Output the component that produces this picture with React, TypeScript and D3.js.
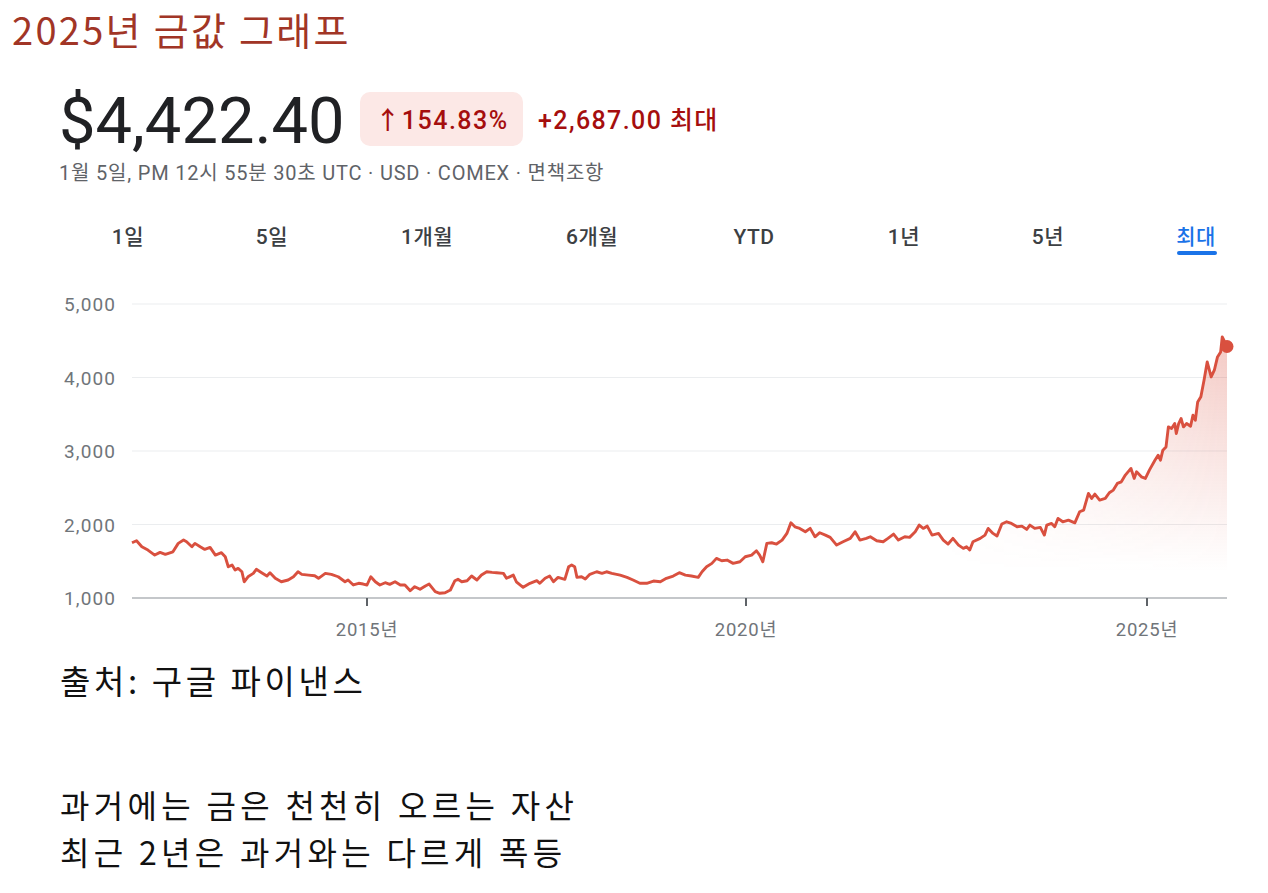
import React from "react";
import * as d3 from "d3";

// ---- data (decimal year, price in USD) ----
const years: number[] = [
  2011.90, 2011.96, 2012.03, 2012.11, 2012.20, 2012.27, 2012.34, 2012.44, 2012.51, 2012.58,
  2012.62, 2012.69, 2012.73, 2012.80, 2012.86, 2012.93, 2013.00, 2013.08, 2013.13, 2013.17,
  2013.22, 2013.26, 2013.30, 2013.35, 2013.38, 2013.43, 2013.50, 2013.54, 2013.61, 2013.68,
  2013.72, 2013.79, 2013.87, 2013.96, 2014.03, 2014.09, 2014.14, 2014.23, 2014.31, 2014.36,
  2014.45, 2014.53, 2014.62, 2014.71, 2014.75, 2014.82, 2014.89, 2014.95, 2015.00, 2015.05,
  2015.11, 2015.17, 2015.24, 2015.30, 2015.37, 2015.44, 2015.50, 2015.57, 2015.63, 2015.70,
  2015.77, 2015.82, 2015.90, 2015.96, 2016.03, 2016.10, 2016.16, 2016.20, 2016.25, 2016.32,
  2016.38, 2016.45, 2016.51, 2016.58, 2016.65, 2016.71, 2016.80, 2016.84, 2016.93, 2016.97,
  2017.06, 2017.15, 2017.24, 2017.28, 2017.35, 2017.41, 2017.46, 2017.52, 2017.61, 2017.66,
  2017.70, 2017.74, 2017.77, 2017.83, 2017.88, 2017.94, 2018.03, 2018.10, 2018.16, 2018.23,
  2018.34, 2018.43, 2018.51, 2018.60, 2018.69, 2018.78, 2018.87, 2018.95, 2019.04, 2019.12,
  2019.20, 2019.28, 2019.37, 2019.42, 2019.48, 2019.55, 2019.61, 2019.68, 2019.75, 2019.83,
  2019.92, 2019.99, 2020.07, 2020.13, 2020.17, 2020.21, 2020.26, 2020.32, 2020.38, 2020.45,
  2020.51, 2020.56, 2020.61, 2020.67, 2020.74, 2020.80, 2020.86, 2020.92, 2020.99, 2021.05,
  2021.13, 2021.21, 2021.30, 2021.36, 2021.42, 2021.50, 2021.55, 2021.63, 2021.71, 2021.77,
  2021.84, 2021.90, 2021.98, 2022.04, 2022.11, 2022.16, 2022.21, 2022.26, 2022.32, 2022.40,
  2022.46, 2022.52, 2022.58, 2022.65, 2022.71, 2022.75, 2022.79, 2022.83, 2022.92, 2022.98,
  2023.02, 2023.08, 2023.13, 2023.19, 2023.25, 2023.31, 2023.38, 2023.44, 2023.50, 2023.54,
  2023.60, 2023.67, 2023.72, 2023.75, 2023.81, 2023.85, 2023.89, 2023.95, 2024.02, 2024.10,
  2024.16, 2024.21, 2024.27, 2024.31, 2024.35, 2024.41, 2024.48, 2024.53, 2024.58, 2024.63,
  2024.68, 2024.73, 2024.80, 2024.84, 2024.87, 2024.93, 2024.98, 2025.03, 2025.10, 2025.14,
  2025.17, 2025.20, 2025.24, 2025.27, 2025.31, 2025.35, 2025.37, 2025.40, 2025.43, 2025.46,
  2025.50, 2025.55, 2025.58, 2025.61, 2025.64, 2025.68, 2025.72, 2025.76, 2025.81, 2025.85,
  2025.89, 2025.93, 2025.95, 2026.01,
];

const prices: number[] = [
  1751, 1779, 1697, 1652, 1584, 1621, 1594, 1629, 1743, 1788,
  1765, 1697, 1743, 1697, 1661, 1688, 1584, 1616, 1561, 1425,
  1448, 1380, 1403, 1357, 1221, 1289, 1335, 1390, 1344, 1299,
  1344, 1268, 1221, 1245, 1289, 1357, 1322, 1312, 1303, 1268,
  1335, 1322, 1289, 1221, 1245, 1177, 1200, 1190, 1177, 1289,
  1221, 1177, 1208, 1186, 1221, 1177, 1177, 1099, 1154, 1118,
  1163, 1190, 1086, 1064, 1072, 1109, 1235, 1254, 1221, 1235,
  1299, 1245, 1312, 1357, 1349, 1344, 1335, 1268, 1312, 1221,
  1145, 1200, 1235, 1200, 1268, 1299, 1221, 1281, 1254, 1425,
  1448, 1425, 1281, 1289, 1258, 1322, 1357, 1335, 1357, 1335,
  1312, 1281, 1245, 1200, 1200, 1231, 1221, 1268, 1299, 1344,
  1312, 1299, 1281, 1357, 1425, 1471, 1539, 1507, 1516, 1471,
  1493, 1561, 1584, 1643, 1584, 1493, 1743, 1752, 1734, 1788,
  1879, 2023, 1969, 1947, 1901, 1947, 1833, 1888, 1856, 1825,
  1720, 1765, 1811, 1901, 1788, 1811, 1833, 1779, 1765, 1811,
  1870, 1788, 1833, 1825, 1901, 1992, 1947, 1978, 1856, 1879,
  1788, 1734, 1811, 1720, 1675, 1697, 1652, 1765, 1811, 1856,
  1947, 1879, 1843, 2006, 2037, 2015, 1969, 1978, 1933, 1992,
  1947, 1961, 1856, 1992, 2015, 1969, 2083, 2037, 2060, 2023,
  2173, 2196, 2423, 2355, 2413, 2332, 2355, 2432, 2468, 2559,
  2581, 2672, 2763, 2627, 2717, 2649, 2627, 2740, 2875, 2943,
  2875, 3011, 3056, 3328, 3306, 3374, 3238, 3374, 3442, 3328,
  3374, 3337, 3487, 3419, 3668, 3737, 3963, 4212, 4008, 4099,
  4280, 4348, 4552, 4422,
];

const yTicks: number[] = [1000, 2000, 3000, 4000, 5000];
const xTicks: number[] = [2015, 2020, 2025];
const tabs: string[] = ["1일", "5일", "1개월", "6개월", "YTD", "1년", "5년", "최대"];
const noteLines: string[] = ["과거에는 금은 천천히 오르는 자산", "최근 2년은 과거와는 다르게 폭등"];

const KR = "'Noto Sans CJK KR', 'Noto Sans', sans-serif";
const RB = "Roboto, 'Noto Sans CJK KR', sans-serif";
const LINE = "#d9503f";

export default function App() {
  const x = d3
    .scaleLinear()
    .domain([2011.9, 2015, 2020, 2025, 2026.01])
    .range([132, 367, 746, 1147, 1227]);
  const y = d3.scaleLinear().domain([1000, 5000]).range([598, 304]);

  const pts = years.map((yr, i) => ({ t: yr, v: prices[i] }));
  const line = d3
    .line<{ t: number; v: number }>()
    .x((d) => x(d.t))
    .y((d) => y(d.v));
  const area = d3
    .area<{ t: number; v: number }>()
    .x((d) => x(d.t))
    .y0(y(1000))
    .y1((d) => y(d.v));

  const last = pts[pts.length - 1];
  const tabX = [128, 272, 427, 592, 754, 904, 1048, 1196];

  return (
    <svg
      width={1268}
      height={893}
      style={{ position: "absolute", left: 0, top: 0, background: "#fff" }}
    >
      <defs>
        <linearGradient id="hfade" gradientUnits="userSpaceOnUse" x1={930} y1={0} x2={1227} y2={0}>
          <stop offset="0%" stopColor="#fff" stopOpacity={0} />
          <stop offset="100%" stopColor="#fff" stopOpacity={1} />
        </linearGradient>
        <mask id="amask">
          <rect x={0} y={0} width={1268} height={893} fill="url(#hfade)" />
        </mask>
        <linearGradient id="vfade2" gradientUnits="userSpaceOnUse" x1={0} y1={330} x2={0} y2={598}>
          <stop offset="0%" stopColor={LINE} stopOpacity={0.32} />
          <stop offset="90%" stopColor={LINE} stopOpacity={0} />
        </linearGradient>
      </defs>

      {/* title */}
      <text x={12} y={45} fontFamily={KR} fontSize={38} letterSpacing={2.3} fill="#a13526">
        2025년 금값 그래프
      </text>

      {/* price header */}
      <text x={59} y={143} fontFamily={RB} fontSize={65} fill="#202124">
        $4,422.40
      </text>
      <rect x={360} y={92} width={163} height={54} rx={10} fill="#fce8e6" />
      <text x={442} y={129} textAnchor="middle" fontFamily={RB} fontSize={25} letterSpacing={1.5} fontWeight={500} fill="#a50e0e">
        ↑154.83%
      </text>
      <text x={538} y={129} fontFamily={RB} fontSize={25} letterSpacing={1.4} fontWeight={500} fill="#a50e0e">
        +2,687.00 최대
      </text>
      <text x={59} y={180} fontFamily={RB} fontSize={20} letterSpacing={0.8} fill="#5f6368">
        1월 5일, PM 12시 55분 30초 UTC · USD · COMEX · 면책조항
      </text>

      {/* tabs */}
      {tabs.map((t, i) => (
        <text
          key={t}
          x={tabX[i]}
          y={244}
          textAnchor="middle"
          fontFamily={RB}
          fontSize={21}
          fontWeight={500}
          letterSpacing={0.5}
          fill={i === tabs.length - 1 ? "#1a73e8" : "#3c4043"}
        >
          {t}
        </text>
      ))}
      <rect x={1177} y={251} width={40} height={4} rx={2} fill="#1a73e8" />

      {/* grid */}
      {yTicks.slice(1).map((v) => (
        <line key={v} x1={132} x2={1227} y1={y(v)} y2={y(v)} stroke="#ebedef" strokeWidth={1} />
      ))}
      {yTicks.map((v) => (
        <text
          key={"l" + v}
          x={116}
          y={y(v) + 7}
          textAnchor="end"
          fontFamily={RB}
          fontSize={19}
          letterSpacing={1.1}
          fill="#70757a"
        >
          {d3.format(",")(v)}
        </text>
      ))}

      {/* area + line */}
      <path d={area(pts) || ""} fill="url(#vfade2)" mask="url(#amask)" />
      <path d={line(pts) || ""} fill="none" stroke={LINE} strokeWidth={2.9} strokeLinejoin="round" />
      <circle cx={x(last.t)} cy={y(last.v)} r={6.5} fill={LINE} />

      {/* x axis */}
      <line x1={132} x2={1227} y1={y(1000)} y2={y(1000)} stroke="#b0b4b8" strokeWidth={1.5} />
      {xTicks.map((t) => (
        <g key={t}>
          <line x1={x(t)} x2={x(t)} y1={y(1000)} y2={y(1000) + 8} stroke="#5f6368" strokeWidth={2} />
          <text x={x(t)} y={636} textAnchor="middle" fontFamily={RB} fontSize={18.5} letterSpacing={0.8} fill="#70757a">
            {t}년
          </text>
        </g>
      ))}

      {/* notes */}
      <text x={60} y={694} fontFamily={KR} fontSize={33} letterSpacing={3.6} fill="#111">
        출처: 구글 파이낸스
      </text>
      {noteLines.map((s, i) => (
        <text key={s} x={60} y={818 + i * 47} fontFamily={KR} fontSize={32} letterSpacing={4.3} fill="#111">
          {s}
        </text>
      ))}
    </svg>
  );
}
